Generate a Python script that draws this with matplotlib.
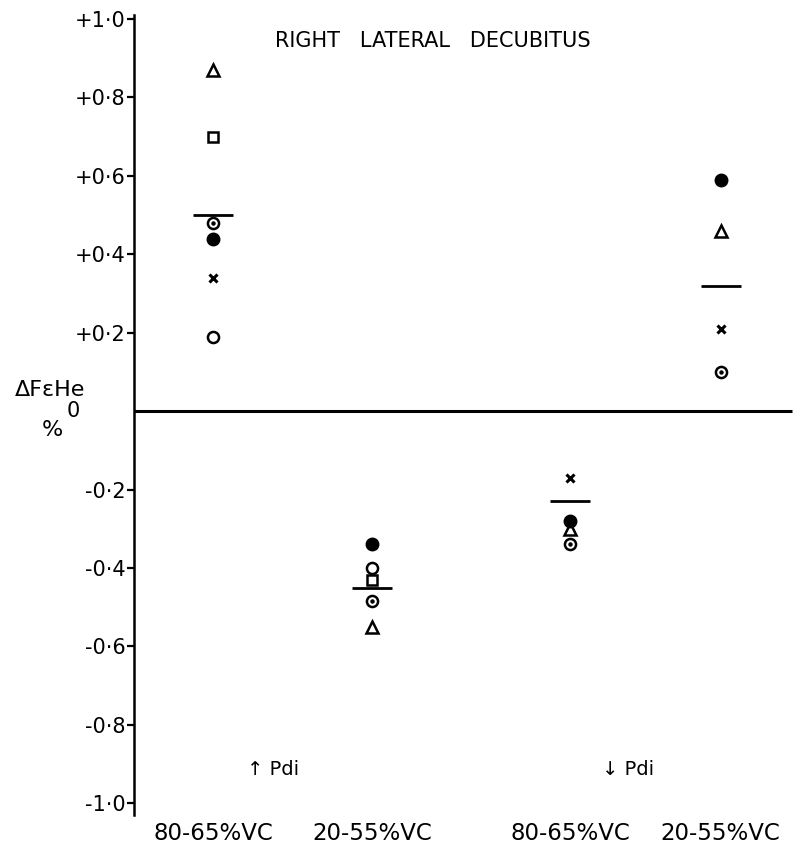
import matplotlib
matplotlib.use("Agg")
import matplotlib.pyplot as plt
import numpy as np

nan = np.nan

# groups: up-Pdi (80-65 %VC, 20-55 %VC), down-Pdi (80-65 %VC, 20-55 %VC)
group_labels = ["80-65%VC", "20-55%VC", "80-65%VC", "20-55%VC"]

# delta FeHe (%) per subject symbol, one value per group
open_triangle = [0.87, -0.55, -0.30, 0.46]
open_square = [0.70, -0.43, nan, nan]
dotted_circle = [0.48, -0.485, -0.34, 0.10]
filled_circle = [0.44, -0.34, -0.28, 0.59]
cross = [0.34, nan, -0.17, 0.21]
open_circle = [0.19, -0.40, nan, nan]
group_means = [0.50, -0.45, -0.23, 0.32]

y_ticks = [1.0, 0.8, 0.6, 0.4, 0.2, -0.2, -0.4, -0.6, -0.8, -1.0]
y_ticklabels = ["+1·0", "+0·8", "+0·6", "+0·4", "+0·2",
                "-0·2", "-0·4", "-0·6", "-0·8", "-1·0"]

# layout
group_x = np.array([0.5, 1.5, 2.75, 3.7])
W, H = 804, 863
plt.rcParams["font.family"] = ["DejaVu Sans"]

fig = plt.figure(figsize=(W / 100, H / 100), dpi=100)
ax = fig.add_axes([134 / W, (H - 815) / H, (800 - 134) / W, 800 / H])
ax.set_xlim(0, 4.2)
ax.set_ylim(-1.03, 1.01)

for side in ("top", "right", "bottom"):
    ax.spines[side].set_visible(False)
ax.spines["left"].set_linewidth(1.8)
ax.set_xticks([])
ax.set_yticks(y_ticks)
ax.set_yticklabels(y_ticklabels, fontsize=15)
ax.tick_params(axis="y", direction="out", length=5, width=1.6, pad=1)

# zero line
ax.plot([0, 4.15], [0, 0], color="black", lw=2.2, solid_capstyle="butt")

ms = 8
mew = 1.8
ax.plot(group_x, open_triangle, "^", ms=ms, mfc="white", mec="black", mew=mew, ls="none")
ax.plot(group_x, open_square, "s", ms=ms - 1, mfc="white", mec="black", mew=mew, ls="none")
ax.plot(group_x, open_circle, "o", ms=ms, mfc="white", mec="black", mew=mew, ls="none")
ax.plot(group_x, dotted_circle, "o", ms=ms, mfc="white", mec="black", mew=mew, ls="none")
ax.plot(group_x, dotted_circle, "o", ms=2.2, mfc="black", mec="black", ls="none")
ax.plot(group_x, filled_circle, "o", ms=ms + 1, mfc="black", mec="black", ls="none")
ax.plot(group_x, cross, "x", ms=5.5, mec="black", mew=2.2, ls="none")

# group means
half = 0.126
ax.hlines(group_means, group_x - half, group_x + half, color="black", lw=2.0)

# texts
ax.text(-0.34, 0, "0", fontsize=15, ha="right", va="center", clip_on=False)
fig.text(50 / W, 1 - 390 / H, "ΔFεHe", fontsize=16, ha="center", va="center")
fig.text(52 / W, 1 - 430 / H, "%", fontsize=16, ha="center", va="center")
fig.text(433 / W, 1 - 41 / H, "RIGHT   LATERAL   DECUBITUS", fontsize=15,
         ha="center", va="center")

label_y = (H - 833 - (H - 815)) / 800
for x, lab in zip(group_x, group_labels):
    ax.text(x, label_y, lab, fontsize=16.5, ha="center", va="center",
            transform=ax.get_xaxis_transform(), clip_on=False)

ax.text(0.71, -0.915, "↑ Pdi", fontsize=14, ha="left", va="center")
ax.text(2.95, -0.915, "↓ Pdi", fontsize=14, ha="left", va="center")

fig.savefig("out.png", dpi=100, facecolor="white")
